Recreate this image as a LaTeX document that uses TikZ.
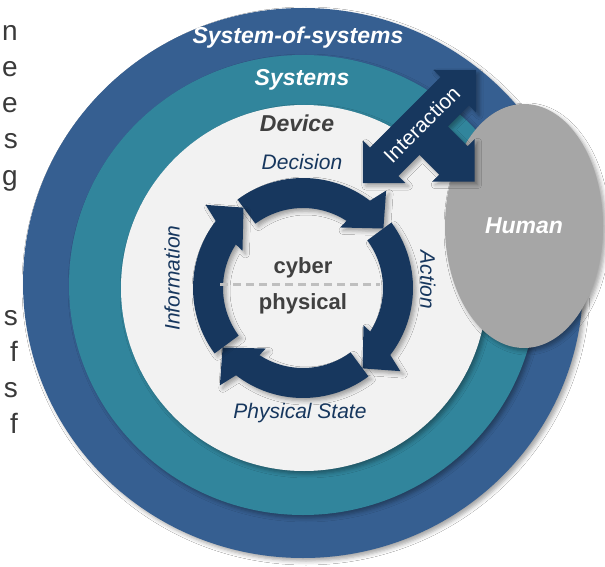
\documentclass[tikz,border=0pt]{standalone}
\usepackage{fontspec}
\setmainfont{Liberation Sans}
\usetikzlibrary{shapes.geometric,shadows.blur}

\definecolor{sosblue}{HTML}{365F91}
\definecolor{systeal}{HTML}{31859C}
\definecolor{devbg}{HTML}{F2F2F2}
\definecolor{loopblue}{HTML}{17375E}
\definecolor{humangray}{HTML}{A6A6A6}
\definecolor{txtgray}{HTML}{404040}
\definecolor{splitgray}{HTML}{BFBFBF}

\tikzset{
  softshadow/.style={blur shadow={shadow xshift=3pt, shadow yshift=-3pt,
      shadow blur radius=4pt, shadow opacity=35}},
  layerlabel/.style={text=white, inner sep=0pt,
      font=\fontsize{23}{27}\selectfont\bfseries\itshape},
  ringlabel/.style={text=loopblue, inner sep=0pt,
      font=\fontsize{21}{25}\selectfont\itshape},
  coretext/.style={text=txtgray, inner sep=0pt,
      font=\fontsize{22}{26}\selectfont\bfseries},
  margintext/.style={text=txtgray!90!black, inner sep=0pt, anchor=base east,
      font=\fontsize{28}{34}\selectfont},
  humanblob/.style={ellipse, fill=humangray, minimum width=158pt,
      minimum height=244pt, inner sep=0pt, text=white,
      font=\fontsize{23}{27}\selectfont\bfseries\itshape},
  loopshaft/.style={fill=loopblue, softshadow},
}

\begin{document}
\begin{tikzpicture}[x=1pt,y=1pt]
\useasboundingbox (0,0) rectangle (605,566);
\fill[white] (0,0) rectangle (605,566);

% line ends of the neighbouring text column
\node[margintext] (m1) at (18,525) {n};
\node[margintext] (m2) at (18,489) {e};
\node[margintext] (m3) at (18,453) {e};
\node[margintext] (m4) at (18,417) {s};
\node[margintext] (m5) at (18,381) {g};
\node[margintext] (m6) at (18,241) {s};
\node[margintext] (m7) at (18,205) {f};
\node[margintext] (m8) at (18,169) {s};
\node[margintext] (m9) at (18,133) {f};

% nested layers
\fill[sosblue, softshadow] (303,283) ellipse [x radius=280, y radius=275];
\fill[systeal, softshadow] (303,281) ellipse [x radius=234, y radius=230];
\fill[devbg, softshadow] (304,278) circle [radius=183];

% human
\node[humanblob, softshadow] (human) at (524,340) {Human};

% three-way interaction arrow
\begin{scope}[shift={(419.5,439.5)}, rotate=45]
  \fill[loopshaft]
    (80,0) -- (50,30) -- (50,20) -- (-50,20) -- (-50,30) -- (-80,0)
    -- (-50,-30) -- (-50,-20) -- (-20,-20) -- (-20,-48) -- (-30,-48)
    -- (0,-78) -- (30,-48) -- (20,-48) -- (20,-20) -- (50,-20)
    -- (50,-30) -- cycle;
  \node[text=white, inner sep=0pt, rotate=45,
        font=\fontsize{21}{25}\selectfont] (interaction) at (3,0) {Interaction};
\end{scope}

% decision loop: four curved arrows, clockwise
\begin{scope}[shift={(303,278)}]
  \foreach \t in {36.5,-53.5,-143.5,-233.5} {
    \fill[loopshaft]
      ({\t+90}:110) arc [start angle={\t+90}, end angle={\t+16}, radius=110]
      -- ({\t+13}:128) -- (\t:100) -- ({\t+22}:71) -- ({\t+20.5}:80)
      arc [start angle={\t+20.5}, end angle={\t+90}, radius=80] -- cycle;
  }
\end{scope}

% cyber / physical split
\coordinate (split-l) at (220,282);
\coordinate (split-r) at (380,282);
\draw[splitgray, line width=3pt, dash pattern=on 8pt off 5pt] (split-l) -- (split-r);
\node[coretext] (cyber) at (303,298) {cyber};
\node[coretext] (physical) at (303,262) {physical};

% layer names
\node[layerlabel] (sos) at (298,528) {System-of-systems};
\node[layerlabel] (sys) at (302,486) {Systems};
\node[layerlabel, text=txtgray] (dev) at (297,443) {Device};

% loop stage names
\node[ringlabel] (decision) at (302,404) {Decision};
\node[ringlabel, rotate=-90] (action) at (428,286) {Action};
\node[ringlabel] (state) at (300,153) {Physical State};
\node[ringlabel, rotate=90] (info) at (172,288) {Information};
\end{tikzpicture}
\end{document}
